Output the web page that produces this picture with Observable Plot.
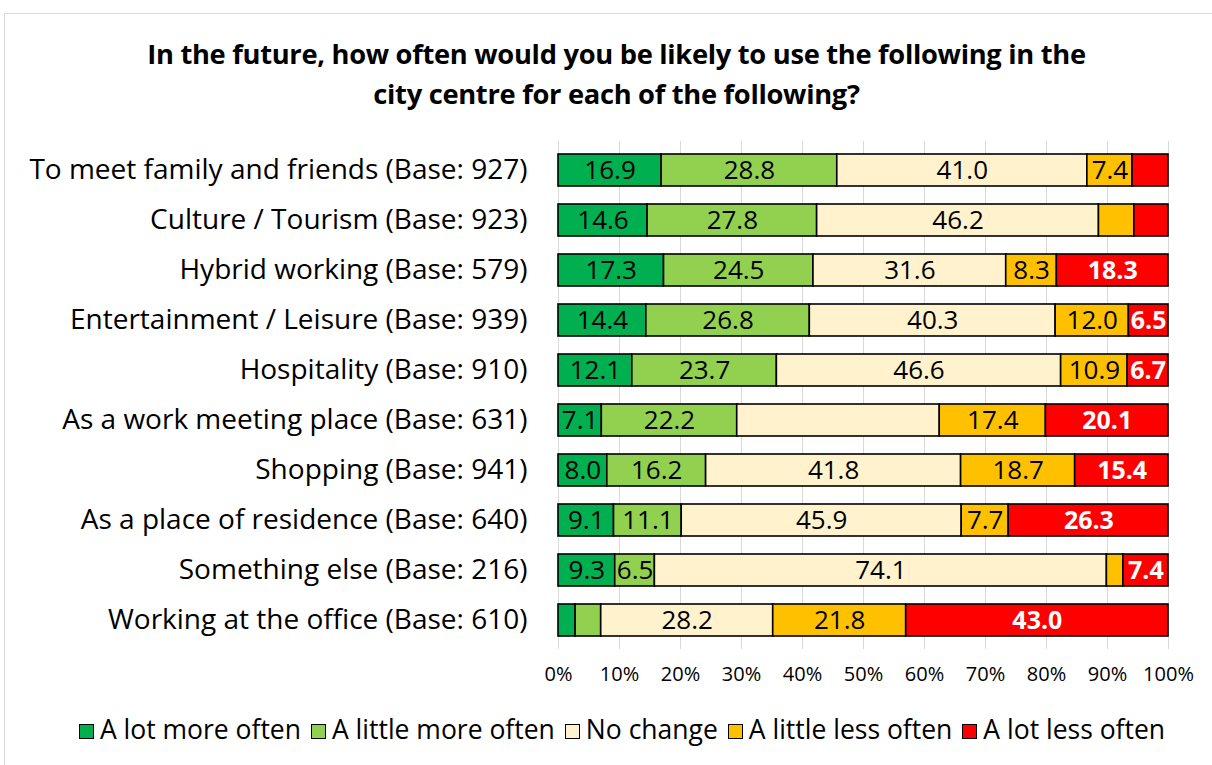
<!DOCTYPE html>
<html>
<head>
<meta charset="utf-8">
<script src="https://cdn.jsdelivr.net/npm/d3@7"></script>
<script src="https://cdn.jsdelivr.net/npm/@observablehq/plot@0.6"></script>
<style>
  html, body { margin: 0; padding: 0; background: #fff; }
  body { width: 1212px; height: 765px; position: relative; overflow: hidden; font-family: "Open Sans", Lato, sans-serif; color: #000; }
  #frame { position: absolute; left: 4px; top: 13px; width: 1220px; height: 800px; border: 1px solid #d9d9d9; box-sizing: border-box; }
  #title { position: absolute; left: 0; width: 1233px; top: 34px; text-align: center; font-weight: bold; font-size: 27.3px; line-height: 40px; letter-spacing: -0.3px; }
  #chart { position: absolute; left: 0; top: 128px; }
  #legend { position: absolute; left: 0; width: 1244px; top: 712px; text-align: center; font-size: 26.5px; line-height: 34px; white-space: nowrap; }
  #legend span.item { margin: 0 5px; }
  #legend span.sw { display: inline-block; width: 15px; height: 15px; border: 1.5px solid #000; box-sizing: border-box; margin-right: 6px; vertical-align: 0px; }
</style>
</head>
<body>
<div id="frame"></div>
<div id="title">In the future, how often would you be likely to use the following in the<br>city centre for each of the following?</div>
<div id="chart"></div>
<div id="legend"></div>
<script>
const categories = [
  "To meet family and friends (Base: 927)",
  "Culture / Tourism (Base: 923)",
  "Hybrid working (Base: 579)",
  "Entertainment / Leisure (Base: 939)",
  "Hospitality (Base: 910)",
  "As a work meeting place (Base: 631)",
  "Shopping (Base: 941)",
  "As a place of residence (Base: 640)",
  "Something else (Base: 216)",
  "Working at the office (Base: 610)"
];
const responses = ["A lot more often", "A little more often", "No change", "A little less often", "A lot less often"];
const colors = ["#00b050", "#92d050", "#fff2cc", "#ffc000", "#ff0000"];
const aLotMore    = [16.9, 14.6, 17.3, 14.4, 12.1,  7.1,  8.0,  9.1,  9.3,  2.8];
const aLittleMore = [28.8, 27.8, 24.5, 26.8, 23.7, 22.2, 16.2, 11.1,  6.5,  4.2];
const noChange    = [41.0, 46.2, 31.6, 40.3, 46.6, 33.2, 41.8, 45.9, 74.1, 28.2];
const aLittleLess = [ 7.4,  5.8,  8.3, 12.0, 10.9, 17.4, 18.7,  7.7,  2.7, 21.8];
const aLotLess    = [ 5.9,  5.6, 18.3,  6.5,  6.7, 20.1, 15.4, 26.3,  7.4, 43.0];
// segments whose value label is not shown in the original: [category index, response index]
const hiddenLabels = [[0, 4], [1, 3], [1, 4], [5, 2], [8, 3], [9, 0], [9, 1]];
const xTicks = [0, 10, 20, 30, 40, 50, 60, 70, 80, 90, 100];

const seriesValues = [aLotMore, aLittleMore, noChange, aLittleLess, aLotLess];
const data = [];
categories.forEach((c, i) => {
  responses.forEach((r, j) => {
    const hidden = hiddenLabels.some(([a, b]) => a === i && b === j);
    data.push({cat: c, resp: r, value: seriesValues[j][i], ri: j, label: hidden ? "" : seriesValues[j][i].toFixed(1)});
  });
});

const stackOpts = {x: "value", y: "cat", z: "resp", order: responses};
const font = "'Open Sans', Lato, sans-serif";
const plot = Plot.plot({
  width: 1212,
  height: 573,
  marginLeft: 558,
  marginRight: 44,
  marginTop: 13,
  marginBottom: 52,
  style: {fontFamily: font, color: "#000", background: "transparent"},
  x: {domain: [0, 100], clamp: true},
  y: {domain: categories, padding: 0.36, paddingOuter: 0.18},
  color: {domain: responses, range: colors},
  marks: [
    Plot.ruleX(xTicks, {x: d => d, stroke: "#d9d9d9", strokeWidth: 1}),
    Plot.barX(data, Plot.stackX({...stackOpts, fill: "resp", stroke: "#000", strokeWidth: 1.6})),
    Plot.text(data, Plot.stackX({...stackOpts, text: d => d.ri !== 4 ? d.label : "", fill: "#000", fontSize: 26})),
    Plot.text(data, Plot.stackX({...stackOpts, text: d => d.ri === 4 ? d.label : "", fill: "#fff", fontSize: 25, fontWeight: "bold"})),
    Plot.axisY({tickSize: 0, tickPadding: 31, fontSize: 28, label: null}),
    Plot.axisX({ticks: xTicks, tickSize: 0, tickPadding: 17, fontSize: 20, tickFormat: d => d + "%", label: null})
  ]
});
document.getElementById("chart").appendChild(plot);

const legend = document.getElementById("legend");
legend.innerHTML = responses.map((r, j) =>
  `<span class="item"><span class="sw" style="background:${colors[j]}"></span>${r}</span>`).join("");
</script>
</body>
</html>
